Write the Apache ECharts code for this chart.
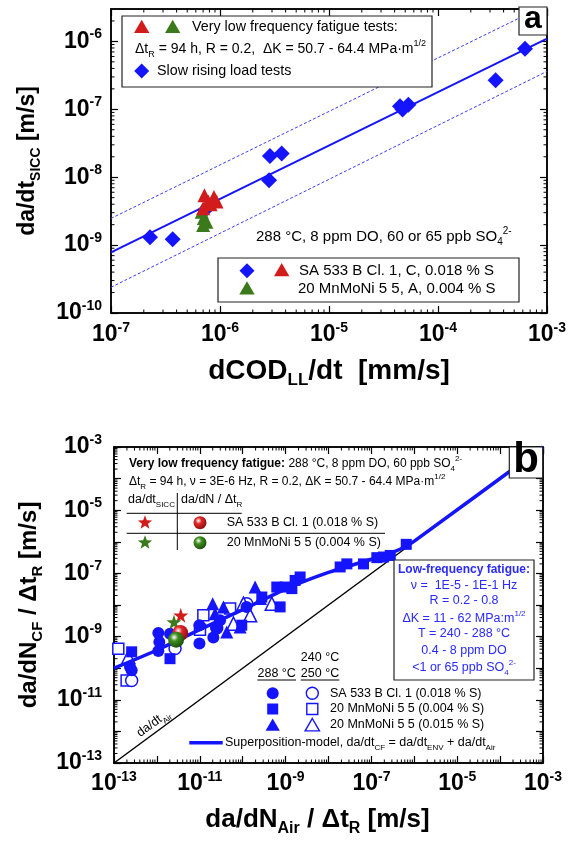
<!DOCTYPE html>
<html><head><meta charset="utf-8">
<script src="https://cdn.jsdelivr.net/npm/echarts@6/dist/echarts.min.js"></script>
<style>html,body{margin:0;padding:0;background:#fff}#chart{width:574px;height:841px}</style>
</head><body><div id="chart"></div>
<script>
var FONT = '"Liberation Sans", Arial, Helvetica, sans-serif';
var BLUE = '#1414ff', TXTBLUE = '#2a2aff', RED = '#d21c1c', GREEN = '#3b7a1b';

// ---- panel a : da/dt SICC vs dCOD/dt
var srl_blue = [[2.28e-7,1.30e-9],[3.68e-7,1.22e-9],[7.3e-7,3.3e-9],[2.82e-6,9.0e-9],[2.87e-6,2.06e-8],[3.68e-6,2.23e-8],
                [4.48e-5,1.11e-7],[4.73e-5,9.9e-8],[5.35e-5,1.17e-7],[3.38e-4,2.67e-7],[6.28e-4,7.8e-7]];
var vlf_red = [[7.2e-7,5.4e-9],[8.8e-7,5.1e-9],[9.3e-7,4.4e-9],[7.8e-7,4.4e-9],[7.0e-7,3.5e-9],[8.2e-7,4.0e-9]];
var vlf_green = [[6.8e-7,3.1e-9],[7.1e-7,2.5e-9],[7.0e-7,1.97e-9],[7.5e-7,2.2e-9]];
var fit_a = [[1e-7,7.8e-10],[1e-3,1.1e-6]];
var band_hi = [[1e-7,2.47e-9],[1e-3,3.5e-6]];
var band_lo = [[1e-7,2.39e-10],[1e-3,3.62e-7]];

// ---- panel b : da/dN CF / dtR vs da/dN Air / dtR
var sa533_288 = [[2.36e-13,1.09e-10],[2.58e-13,8.6e-11],[1.08e-12,1.3e-9],[1.14e-12,6.7e-10],[1.08e-12,3.5e-10],[2.02e-12,1.24e-9],
                 [9.8e-12,2.28e-9],[9.8e-12,6.0e-10],[2.07e-11,9.3e-10],[2.48e-11,1.78e-9],[2.97e-11,3.3e-9],[1.23e-10,8.7e-9]];
var sa533_240 = [[2.58e-13,4.1e-11],[2.65e-12,4.2e-10],[2.48e-11,1.9e-9],[1.24e-10,1.1e-8]];
var mn004_288 = [[2.58e-13,3.3e-10],[2.02e-12,2.0e-10],[9.5e-11,2.3e-9],[7.45e-10,8.7e-9],[2.79e-10,1.79e-8],[6.24e-10,3.7e-8],
                 [9.75e-10,3.7e-8],[1.4e-9,3.3e-8],[1.67e-9,6.0e-8],[2.18e-9,7.7e-8],[1.87e-8,1.6e-7],[2.68e-8,2.0e-7],
                 [6.55e-8,2.0e-7],[1.34e-7,3.15e-7],[1.92e-7,3.3e-7],[2.75e-7,3.7e-7],[6.49e-7,8.3e-7]];
var mn004_250 = [[1.26e-13,4.15e-10],[1.97e-13,4.1e-11],[1.21e-11,4.7e-9],[1.01e-11,1.66e-9],[5.08e-11,7.7e-9]];
var mn015_288 = [[2.0e-11,1.1e-8],[3.56e-11,8.7e-9],[4.25e-11,1.4e-9],[2.27e-11,5.3e-9],[8.7e-11,2.0e-9],[1.95e-10,3.7e-8],[2.6e-10,1.6e-8]];
var mn015_240 = [[2.16e-13,2.26e-10],[6.08e-11,2.57e-9],[1.04e-10,1.1e-8],[1.49e-10,4.7e-9],[4.76e-10,1.1e-8]];
var star_red = [[3.6e-12,4.7e-9]], star_green = [[2.5e-12,2.9e-9]];
var ball_red = [[3.5e-12,1.3e-9]], ball_green = [[2.8e-12,8.0e-10]];
var model_b = [[1e-13,1.0e-10],[1e-12,3.7e-10],[1e-11,1.66e-9],[1e-10,7.1e-9],[1e-9,3.2e-8],[1e-8,1.07e-7],[1e-7,2.8e-7],
               [3.2e-7,4.7e-7],[6.3e-7,7.1e-7],[1e-6,1.05e-6],[1e-3,1e-3]];
var air_b = [[1e-13,1e-13],[1e-3,1e-3]];

var STAR = 'path://M50,0L61.2,34.5L97.6,34.5L68.2,55.9L79.4,90.5L50,69.1L20.6,90.5L31.8,55.9L2.4,34.5L38.8,34.5Z';

function ball(c1, c2){
    return {type:'radial', x:0.38, y:0.35, r:0.7, colorStops:[{offset:0,color:'#ffffff'},{offset:0.35,color:c1},{offset:1,color:c2}]};
}

function expFmt(every){
    return function(v){
        var l = Math.log10(v), e = Math.round(l);
        if (Math.abs(l - e) > 0.02) return '';
        if (every === 2 && e % 2 === 0) return '';
        return '{b|10}{e|' + e + '}';
    };
}
var labRich = {
    b:{fontSize:23, fontWeight:'bold', fontFamily:FONT, color:'#000', lineHeight:28},
    e:{fontSize:14, fontWeight:'bold', fontFamily:FONT, color:'#000', verticalAlign:'top', lineHeight:14}
};
function nameRich(sz){
    return {
        m:{fontSize:sz, fontWeight:'bold', fontFamily:FONT, color:'#000', lineHeight:sz+8},
        s:{fontSize:Math.round(sz*0.62), fontWeight:'bold', fontFamily:FONT, color:'#000', verticalAlign:'bottom', lineHeight:Math.round(sz*0.55)}
    };
}

function axis(grid, pos, min, max, lab){
    var a = {
        type:'log', logBase:10, gridIndex:grid, position:pos, min:min, max:max, splitNumber:10,
        axisLine:{show:true, lineStyle:{color:'#000', width:1.5}},
        axisTick:{show:true, inside:true, length:7, lineStyle:{color:'#000', width:1.2}},
        minorTick:{show:false}, splitLine:{show:false},
        axisLabel:{show:false}
    };
    if (lab) {
        a.axisLabel = {show:true, formatter:expFmt(lab.every), rich:labRich, margin:lab.margin, showMaxLabel:lab.showMax};
        a.name = lab.name; a.nameLocation = 'middle'; a.nameGap = lab.gap;
        a.nameTextStyle = {rich:nameRich(lab.size), padding:lab.pad || 0};
    }
    return a;
}

// minor ticks 2..9 per decade, drawn on all four edges
function minorData(x0, x1, y0, y1){
    var d = [], e, k, v;
    for (e = Math.floor(Math.log10(x0)); e < Math.log10(x1); e++)
        for (k = 2; k < 10; k++) { v = k * Math.pow(10, e); if (v > x0 && v < x1) d.push([v, y0, 0]); }
    for (e = Math.floor(Math.log10(y0)); e < Math.log10(y1); e++)
        for (k = 2; k < 10; k++) { v = k * Math.pow(10, e); if (v > y0 && v < y1) d.push([x0, v, 1]); }
    return d;
}
function renderMinor(params, api){
    var cs = params.coordSys, p = api.coord([api.value(0), api.value(1)]), L = 3.5;
    var st = {stroke:'#000', lineWidth:1};
    if (api.value(2) === 0) {
        return {type:'group', children:[
            {type:'line', shape:{x1:p[0], y1:cs.y+cs.height, x2:p[0], y2:cs.y+cs.height-L}, style:st},
            {type:'line', shape:{x1:p[0], y1:cs.y, x2:p[0], y2:cs.y+L}, style:st}]};
    }
    return {type:'group', children:[
        {type:'line', shape:{x1:cs.x, y1:p[1], x2:cs.x+L, y2:p[1]}, style:st},
        {type:'line', shape:{x1:cs.x+cs.width, y1:p[1], x2:cs.x+cs.width-L, y2:p[1]}, style:st}]};
}

// ---- graphic helpers (legends, notes)
function txt(x, y, s, size, o){
    o = o || {};
    var col = o.color || '#000', ss = Math.round(size * 0.65 * 2) / 2;
    var r = {
        sub:{fontSize:ss, fontFamily:FONT, fill:col, verticalAlign:'bottom', lineHeight:ss},
        sup:{fontSize:ss, fontFamily:FONT, fill:col, verticalAlign:'top', lineHeight:ss},
        bd:{fontSize:size, fontWeight:'bold', fontFamily:FONT, fill:col, lineHeight:size + 6}
    };
    return {type:'text', x:x, y:y, z:110, rotation:o.rot || 0, style:{
        text:s, fontFamily:FONT, fontSize:size, fontWeight:o.weight || 'normal', fill:col, lineHeight:size + 6,
        align:o.align || 'left', verticalAlign:'middle', textAlign:o.align || 'left', textVerticalAlign:'middle', rich:r}};
}
function box(x, y, w, h){ return {type:'rect', z:100, shape:{x:x, y:y, width:w, height:h}, style:{fill:'#fff', stroke:'#222', lineWidth:1.2}}; }
function ln(x1, y1, x2, y2, c, w){ return {type:'line', z:105, shape:{x1:x1, y1:y1, x2:x2, y2:y2}, style:{stroke:c || '#000', lineWidth:w || 1}}; }
function tri(x, y, s, c, open){ return {type:'polygon', z:106, shape:{points:[[x, y-s*0.5],[x+s*0.55, y+s*0.45],[x-s*0.55, y+s*0.45]]},
    style:open ? {fill:'#fff', stroke:c, lineWidth:1.4} : {fill:c}}; }
function dia(x, y, s, c){ return {type:'polygon', z:106, shape:{points:[[x, y-s/2],[x+s/2, y],[x, y+s/2],[x-s/2, y]]}, style:{fill:c}}; }
function dot(x, y, r, c, open){ return {type:'circle', z:106, shape:{cx:x, cy:y, r:r}, style:open ? {fill:'#fff', stroke:c, lineWidth:1.4} : {fill:c}}; }
function sq(x, y, s, c, open){ return {type:'rect', z:106, shape:{x:x-s/2, y:y-s/2, width:s, height:s}, style:open ? {fill:'#fff', stroke:c, lineWidth:1.4} : {fill:c}}; }
function star(x, y, R, c){
    var pts = [];
    for (var i = 0; i < 10; i++) { var a = -Math.PI/2 + i*Math.PI/5, r = i % 2 ? R*0.42 : R; pts.push([x + r*Math.cos(a), y + r*Math.sin(a)]); }
    return {type:'polygon', z:106, shape:{points:pts}, style:{fill:c}};
}

var graphics = [
    // panel a
    box(122, 16, 310, 71),
    tri(141.7, 26.7, 14, RED), tri(172.7, 26.7, 14, GREEN),
    txt(192, 27.5, 'Very low frequency fatigue tests:', 14.3),
    txt(135, 49, 'Δt{sub|R} = 94 h, R = 0.2,  ΔK = 50.7 - 64.4 MPa·m{sup|1/2}', 14),
    dia(141.7, 71, 15, BLUE), txt(157, 71, 'Slow rising load tests', 14.3),
    txt(256, 237, '288 °C, 8 ppm DO, 60 or 65 ppb SO{sub|4}{sup|2-}', 15),
    box(218, 258, 301, 44),
    dia(247, 270.7, 15, BLUE), tri(281.7, 270, 14, RED), txt(299, 271, 'SA 533 B Cl. 1, C, 0.018 % S', 15),
    tri(247, 288.3, 14, GREEN), txt(298, 289, '20 MnMoNi 5 5, A, 0.004 % S', 15),
    box(519, 7, 28, 28), txt(533, 19, 'a', 32, {weight:'bold', align:'center'}),
    // panel b
    txt(129, 464, '{bd|Very low frequency fatigue:} 288 °C, 8 ppm DO, 60 ppb SO{sub|4}{sup|2-}', 12),
    txt(129, 482, 'Δt{sub|R} = 94 h, ν = 3E-6 Hz, R = 0.2, ΔK = 50.7 - 64.4 MPa·m{sup|1/2}', 12),
    txt(128, 500, 'da/dt{sub|SICC}', 12.5), txt(181, 500, 'da/dN / Δt{sub|R}', 12.5),
    ln(177.3, 493, 177.3, 550), ln(126.7, 513.3, 241.7, 513.3), ln(126.7, 533.3, 385, 533.3),
    star(145, 522.7, 7.5, RED), {type:'circle', z:106, shape:{cx:200, cy:522.7, r:6.5}, style:{fill:ball('#e02626','#8a0d0d')}},
    txt(226.7, 522.7, 'SA 533 B Cl. 1 (0.018 % S)', 12.5),
    star(145, 542.7, 7.5, GREEN), {type:'circle', z:106, shape:{cx:200, cy:542.7, r:6.5}, style:{fill:ball('#3f8f1f','#1c4a0c')}},
    txt(226.7, 542.7, '20 MnMoNi 5 5 (0.004 % S)', 12.5),
    box(509.3, 447, 33.4, 31), txt(526, 460, 'b', 42, {weight:'bold', align:'center'}),
    box(394, 560, 140, 120),
    txt(464, 570, 'Low-frequency fatigue:', 12, {weight:'bold', align:'center', color:TXTBLUE}),
    txt(464, 586, 'ν =  1E-5 - 1E-1 Hz', 12.5, {align:'center', color:TXTBLUE}),
    txt(464, 601, 'R = 0.2 - 0.8', 12.5, {align:'center', color:TXTBLUE}),
    txt(464, 619, 'ΔK = 11 - 62 MPa:m{sup|1/2}', 12.5, {align:'center', color:TXTBLUE}),
    txt(464, 634, 'T = 240 - 288 °C', 12.5, {align:'center', color:TXTBLUE}),
    txt(464, 651, '0.4 - 8 ppm DO', 12.5, {align:'center', color:TXTBLUE}),
    txt(464, 668, '<1 or 65 ppb SO{sub|4}{sup|2-}', 12.5, {align:'center', color:TXTBLUE}),
    txt(320, 657.3, '240 °C', 12.5, {align:'center'}),
    txt(276.7, 673.3, '288 °C', 12.5, {align:'center'}), txt(320, 673.3, '250 °C', 12.5, {align:'center'}),
    ln(257.3, 680, 296, 680), ln(300.7, 680, 339.3, 680),
    dot(272.7, 693.3, 6, BLUE), dot(312.3, 693.3, 6, BLUE, true), txt(330, 693.3, 'SA 533 B Cl. 1 (0.018 % S)', 12.5),
    sq(272.7, 709, 11, BLUE), sq(312.3, 709, 11, BLUE, true), txt(330, 709, '20 MnMoNi 5 5 (0.004 % S)', 12.5),
    tri(272.7, 725, 13, BLUE), tri(312.3, 725, 13, BLUE, true), txt(330, 725, '20 MnMoNi 5 5 (0.015 % S)', 12.5),
    ln(189.3, 742.7, 222.7, 742.7, BLUE, 3.5),
    txt(225, 742.7, 'Superposition-model, da/dt{sub|CF} = da/dt{sub|ENV} + da/dt{sub|Air}', 12.5),
    txt(153.3, 723.3, 'da/dt{sub|Air}', 12.5, {align:'center', rot:36.5*Math.PI/180})
];

function sc(x, y, data, symbol, size, color, open, z){
    return {type:'scatter', xAxisIndex:x, yAxisIndex:y, data:data, symbol:symbol, symbolSize:size, z:z || 3,
        itemStyle:open ? {color:'#fff', borderColor:color, borderWidth:1.5, opacity:1} : {color:color, opacity:1}};
}

var option = {
    animation:false,
    backgroundColor:'#fff',
    grid:[
        {left:111, top:9, width:436, height:304, show:true, borderColor:'#000', borderWidth:1.5, backgroundColor:'transparent'},
        {left:114, top:447, width:429, height:316, show:true, borderColor:'#000', borderWidth:1.5, backgroundColor:'transparent'}
    ],
    xAxis:[
        axis(0, 'bottom', 1e-7, 1e-3, {every:1, margin:8, showMax:true, gap:40, size:28, name:'{m|dCOD}{s|LL}{m|/dt  [mm/s]}'}),
        axis(0, 'top', 1e-7, 1e-3),
        axis(1, 'bottom', 1e-13, 1e-3, {every:2, margin:7, showMax:true, gap:40, size:26, pad:[0,22,0,0], name:'{m|da/dN}{s|Air}{m| / Δt}{s|R}{m| [m/s]}'}),
        axis(1, 'top', 1e-13, 1e-3)
    ],
    yAxis:[
        axis(0, 'left', 1e-10, 3e-6, {every:1, margin:9, showMax:false, gap:68, size:23, name:'{m|da/dt}{s|SICC}{m| [m/s]}'}),
        axis(0, 'right', 1e-10, 3e-6),
        axis(1, 'left', 1e-13, 1e-3, {every:2, margin:12, showMax:true, gap:64, size:24, name:'{m|da/dN}{s|CF}{m| / Δt}{s|R}{m| [m/s]}'}),
        axis(1, 'right', 1e-13, 1e-3)
    ],
    graphic:{elements:graphics},
    series:[
        {type:'custom', xAxisIndex:0, yAxisIndex:0, data:minorData(1e-7, 1e-3, 1e-10, 3e-6), renderItem:renderMinor, silent:true, clip:false, z:1},
        {type:'line', xAxisIndex:0, yAxisIndex:0, data:band_hi, symbol:'none', lineStyle:{color:'#3c3cff', width:1, type:[3,2]}, z:2},
        {type:'line', xAxisIndex:0, yAxisIndex:0, data:band_lo, symbol:'none', lineStyle:{color:'#3c3cff', width:1, type:[3,2]}, z:2},
        {type:'line', xAxisIndex:0, yAxisIndex:0, data:fit_a, symbol:'none', lineStyle:{color:BLUE, width:2}, z:2},
        sc(0, 0, srl_blue, 'diamond', 16, BLUE, false, 3),
        sc(0, 0, vlf_green, 'triangle', 14, GREEN, false, 4),
        sc(0, 0, vlf_red, 'triangle', 14, RED, false, 5),

        {type:'custom', xAxisIndex:2, yAxisIndex:2, data:minorData(1e-13, 1e-3, 1e-13, 1e-3), renderItem:renderMinor, silent:true, clip:false, z:1},
        {type:'line', xAxisIndex:2, yAxisIndex:2, data:air_b, symbol:'none', lineStyle:{color:'#000', width:1.5}, z:2},
        sc(2, 2, mn004_250, 'rect', 11, BLUE, true, 3),
        sc(2, 2, sa533_240, 'circle', 12, BLUE, true, 3),
        sc(2, 2, mn015_240, 'triangle', 13, BLUE, true, 3),
        sc(2, 2, mn004_288, 'rect', 11, BLUE, false, 4),
        sc(2, 2, sa533_288, 'circle', 12, BLUE, false, 4),
        sc(2, 2, mn015_288, 'triangle', 13, BLUE, false, 4),
        {type:'line', xAxisIndex:2, yAxisIndex:2, data:model_b, symbol:'none', smooth:0.2, lineStyle:{color:BLUE, width:3.5}, z:5},
        sc(2, 2, star_red, STAR, 15, RED, false, 6),
        sc(2, 2, star_green, STAR, 15, GREEN, false, 6),
        {type:'scatter', xAxisIndex:2, yAxisIndex:2, data:ball_red, symbol:'circle', symbolSize:16, z:7, itemStyle:{color:ball('#e02626','#8a0d0d'), opacity:1}},
        {type:'scatter', xAxisIndex:2, yAxisIndex:2, data:ball_green, symbol:'circle', symbolSize:16, z:7, itemStyle:{color:ball('#3f8f1f','#1c4a0c'), opacity:1}}
    ]
};

var chart = echarts.init(document.getElementById('chart'), null, {renderer:'canvas'});
chart.setOption(option);
</script></body></html>
